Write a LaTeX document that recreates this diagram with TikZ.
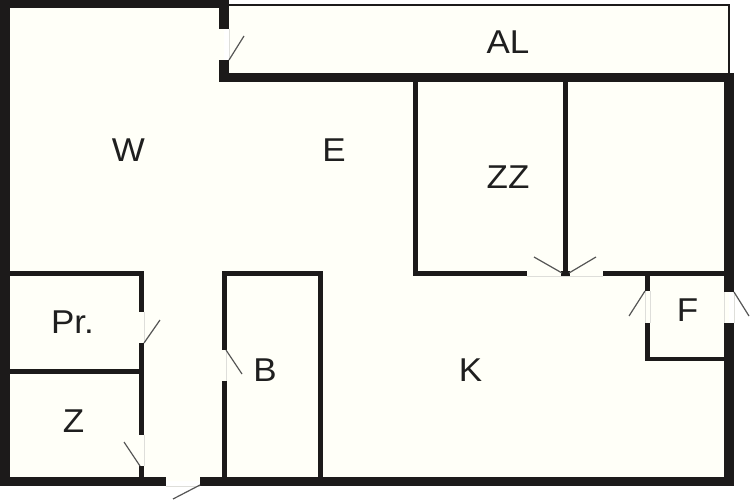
\documentclass[tikz,border=0pt]{standalone}
\usepackage{fontspec}
\setmainfont[FakeStretch=1.06]{Liberation Sans}
\definecolor{wallc}{HTML}{1C1A1A}
\definecolor{floorc}{HTML}{FFFFF8}
\definecolor{swingc}{HTML}{555555}
\definecolor{gapc}{HTML}{DEDEDA}
\tikzset{
  wall/.style={fill=wallc,draw=none},
  floorarea/.style={fill=floorc,draw=none},
  swing/.style={draw=swingc,line width=1.2pt},
  gapline/.style={draw=gapc,line width=0.6pt},
  room/.style={font=\fontsize{33}{33}\selectfont,text=black!88,inner sep=0pt,anchor=center}
}
\begin{document}
\begin{tikzpicture}[x=1pt,y=-1pt]
\useasboundingbox (0,0) rectangle (750,500);
\fill[white] (0,0) rectangle (750,500);
% floor
\fill[floorarea] (5,4) -- (224,4) -- (224,78) -- (729,78) -- (729,481) -- (5,481) -- cycle;
\fill[floorarea] (229,5) rectangle (729,74);
% balcony outline
\draw[wall,draw=wallc,fill=none,line width=2.2pt] (229,5) -- (729,5) -- (729,74);
% door-gap hairlines
\draw[gapline] (229,29) -- (229,60);
\draw[gapline] (527,276) -- (603,276);
\draw[gapline] (650,291) -- (650,323);
\draw[gapline] (645,291) -- (645,323);
\draw[gapline] (724,292) -- (724,323);
\draw[gapline] (734,292) -- (734,323);
\draw[gapline] (144,312) -- (144,343);
\draw[gapline] (226,350) -- (226,381);
\draw[gapline] (144,435) -- (144,466);
\draw[gapline] (166,486) -- (200,486);
% outer walls
\fill[wall] (0,0) rectangle (229,8.5);
\fill[wall] (0,0) rectangle (10,486);
\fill[wall] (0,477) rectangle (166,486);
\fill[wall] (200,477) rectangle (734,486);
\fill[wall] (219,0) rectangle (229,29);
\fill[wall] (219,60) rectangle (229,82);
\fill[wall] (219,73.5) rectangle (734,82);
\fill[wall] (724,73.5) rectangle (734,292);
\fill[wall] (724,323) rectangle (734,486);
% ZZ and neighbouring room
\fill[wall] (413,82) rectangle (418,276);
\fill[wall] (563,82) rectangle (568,276);
\fill[wall] (413,271) rectangle (527,276);
\fill[wall] (561,271) rectangle (570,276);
\fill[wall] (603,271) rectangle (724,276);
% F
\fill[wall] (645,271) rectangle (650,291);
\fill[wall] (645,323) rectangle (650,361);
\fill[wall] (645,356.5) rectangle (724,361);
% Pr. and Z
\fill[wall] (10,271) rectangle (144,276);
\fill[wall] (139,271) rectangle (144,312);
\fill[wall] (139,343) rectangle (144,435);
\fill[wall] (139,466) rectangle (144,477);
\fill[wall] (10,369) rectangle (139,373.5);
% B
\fill[wall] (222,271) rectangle (322,276);
\fill[wall] (222,271) rectangle (226.5,350);
\fill[wall] (222,381) rectangle (226.5,477);
\fill[wall] (318,271) rectangle (322.5,477);
% door swings
\draw[swing] (229,60) -- (244,36);
\draw[swing] (562,273) -- (534,257);
\draw[swing] (569,273) -- (596,257);
\draw[swing] (645,291) -- (629,316);
\draw[swing] (734,292) -- (749,316);
\draw[swing] (144,343) -- (160,320);
\draw[swing] (140,466) -- (124,442);
\draw[swing] (226,350) -- (242,374);
\draw[swing] (200,485) -- (173,499);
% labels
\node[room] (al) at (508,42.5) {AL};
\node[room] (w) at (128.5,150.5) {W};
\node[room] (e) at (334,150.5) {E};
\node[room] (zz) at (508,177) {ZZ};
\node[room] (pr) at (72.5,322.5) {Pr.};
\node[room] (b) at (265,370.5) {B};
\node[room] (k) at (470.5,370.5) {K};
\node[room] (z) at (73.5,421) {Z};
\node[room] (f) at (687.5,310) {F};
\end{tikzpicture}
\end{document}
